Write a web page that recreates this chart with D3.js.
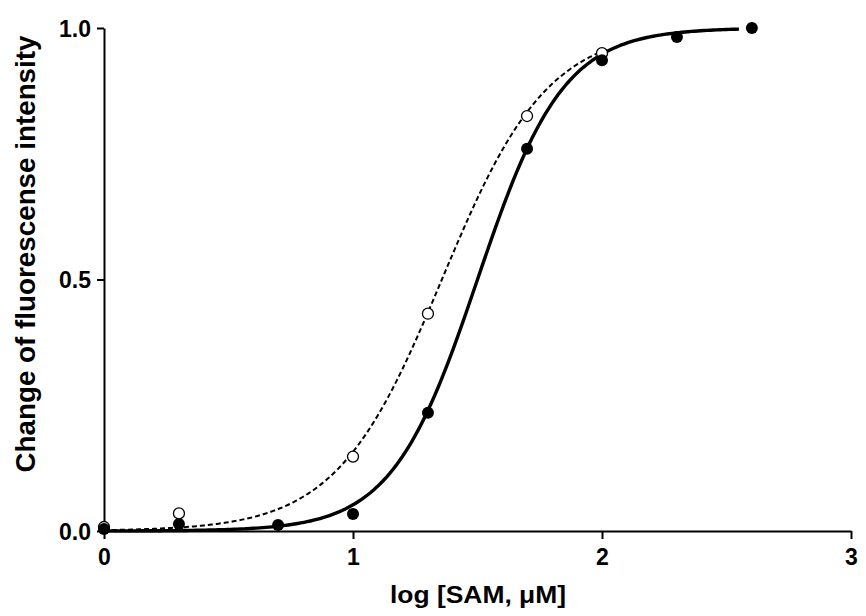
<!DOCTYPE html>
<html><head><meta charset="utf-8">
<script src="https://cdn.jsdelivr.net/npm/d3@7"></script>
<style>body{margin:0;background:#fff}svg{display:block}text{font-family:"Liberation Sans",Arial,sans-serif;font-weight:bold;fill:#000}</style>
</head><body><svg id="c" width="866" height="616"></svg>
<script>
// Data (log [SAM, µM])
const xFilled = [0, 0.301, 0.699, 1.0, 1.301, 1.699, 2.0, 2.301, 2.602];
const yFilled = [0.004, 0.014, 0.012, 0.034, 0.235, 0.76, 0.936, 0.982, 1.0];
const xOpen = [0, 0.301, 1.0, 1.301, 1.699, 2.0];
const yOpen = [0.008, 0.035, 0.148, 0.432, 0.825, 0.95];
// Sigmoid fit parameters [logEC50, Hill slope, x start, x end]
const fitFilled = [1.50, 2.52, 0, 2.55];
const fitOpen = [1.357, 2.04, 0, 2.0];
const xTicks = [0, 1, 2, 3];
const yTicks = [0, 0.5, 1.0];
const xTitle = "log [SAM, \u03bcM]";
const yTitle = "Change of fluorescense intensity";

const svg = d3.select("#c");
const x = d3.scaleLinear().domain([0, 3]).range([104, 851]);
const y = d3.scaleLinear().domain([0, 1]).range([531, 28]);

function curve(p) {
  const pts = [];
  const n = 200;
  for (let i = 0; i <= n; i++) {
    const xv = p[2] + (p[3] - p[2]) * i / n;
    pts.push([xv, 1 / (1 + Math.pow(10, (p[0] - xv) * p[1]))]);
  }
  return pts;
}
const line = d3.line().x(d => x(d[0])).y(d => y(d[1]));

// axes
const xAxis = svg.append("g").attr("transform", "translate(0,531)")
  .call(d3.axisBottom(x).tickValues(xTicks).tickFormat(d3.format("d")).tickSize(8).tickSizeOuter(0));
const yAxis = svg.append("g").attr("transform", "translate(104,0)")
  .call(d3.axisLeft(y).tickValues(yTicks).tickFormat(d3.format(".1f")).tickSize(7).tickSizeOuter(0));
[xAxis, yAxis].forEach(a => {
  a.select(".domain").attr("stroke", "#000").attr("stroke-width", 2);
  a.selectAll(".tick line").attr("stroke", "#000").attr("stroke-width", 2);
  a.selectAll(".tick text").attr("font-size", 23).attr("font-weight", "bold")
    .attr("font-family", "Liberation Sans, Arial, sans-serif").attr("fill", "#000");
});
xAxis.selectAll(".tick text").attr("dy", "0").attr("y", 34);
yAxis.selectAll(".tick text").attr("x", -13).attr("dy", "0.36em");

// curves
svg.append("path").datum(curve(fitOpen)).attr("d", line)
  .attr("fill", "none").attr("stroke", "#000").attr("stroke-width", 2).attr("stroke-dasharray", "5,3");
svg.append("path").datum(curve(fitFilled)).attr("d", line)
  .attr("fill", "none").attr("stroke", "#000").attr("stroke-width", 3.4);

// points
svg.selectAll(".op").data(xOpen.map((v, i) => [v, yOpen[i]])).enter().append("circle")
  .attr("cx", d => x(d[0])).attr("cy", d => y(d[1])).attr("r", 5.5)
  .attr("fill", "#fff").attr("stroke", "#000").attr("stroke-width", 1.3);
svg.selectAll(".fp").data(xFilled.map((v, i) => [v, yFilled[i]])).enter().append("circle")
  .attr("cx", d => x(d[0])).attr("cy", d => y(d[1])).attr("r", 6)
  .attr("fill", "#000");

// titles
svg.append("text").attr("x", 478).attr("y", 603).attr("text-anchor", "middle")
  .attr("font-size", 24).attr("textLength", 176).attr("lengthAdjust", "spacingAndGlyphs").text(xTitle);
svg.append("text").attr("transform", "translate(35,254) rotate(-90)").attr("text-anchor", "middle")
  .attr("font-size", 27).attr("textLength", 437).attr("lengthAdjust", "spacingAndGlyphs").text(yTitle);
</script></body></html>
